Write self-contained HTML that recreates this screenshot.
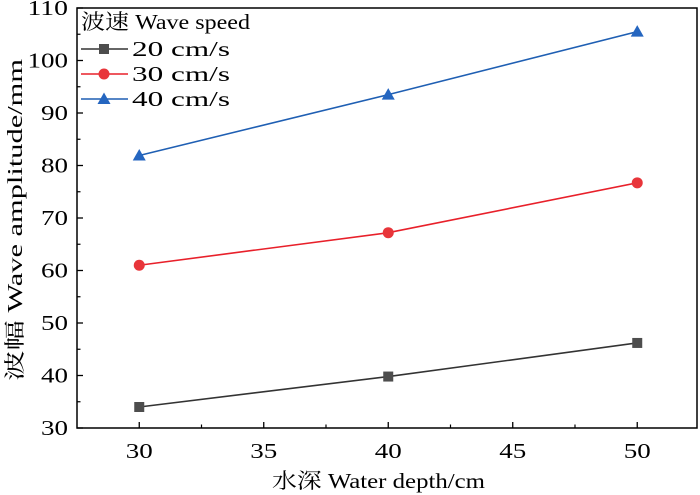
<!DOCTYPE html>
<html><head><meta charset="utf-8"><style>
html,body{margin:0;padding:0;background:#fff;}
svg{display:block;font-family:"Liberation Serif","Noto Serif CJK SC",serif;}
text{font-family:"Liberation Serif","Noto Serif CJK SC",serif;}
</style></head><body>
<svg id="chart" width="700" height="495"></svg>
<script>
const xCats = [30, 40, 50];
const s20 = [34.0, 39.8, 46.2];
const s30 = [61.0, 67.2, 76.7];
const s40 = [81.9, 93.5, 105.5];
const yTicks = [30, 40, 50, 60, 70, 80, 90, 100, 110];
const xTicks = [30, 35, 40, 45, 50];
const seriesNames = ["20 cm/s", "30 cm/s", "40 cm/s"];

const L=77,R=697,T=8,B=428;
const xMin=27.5,xMax=52.4,yMin=30,yMax=110;
const X=v=>L+(v-xMin)/(xMax-xMin)*(R-L);
const Y=v=>B-(v-yMin)/(yMax-yMin)*(B-T);
const svg=document.getElementById('chart');
const NS='http://www.w3.org/2000/svg';
function mk(tag,attrs,parent){const e=document.createElementNS(NS,tag);for(const k in attrs)e.setAttribute(k,attrs[k]);(parent||svg).appendChild(e);return e;}

const frame=mk('rect',{x:L,y:T,width:R-L,height:B-T,fill:'none',stroke:'#000','stroke-width':1.5});



yTicks.forEach((v,i)=>{
  const y=Y(v);
  const t=mk('line',{x1:L,x2:L+6,y1:y,y2:y,stroke:'#000','stroke-width':1.3});
  
  
  if(i<yTicks.length-1){const ym=Y(v+5);mk('line',{x1:L,x2:L+3.5,y1:ym,y2:ym,stroke:'#000','stroke-width':1.2});}
  const s=String(v);
  const lb=mk('text',{x:L-9,y:y+7,'text-anchor':'end','font-size':21,textLength:s.length*13.5,lengthAdjust:'spacingAndGlyphs'});
  lb.textContent=s;
  
  
});
xTicks.forEach((v,i)=>{
  const x=X(v);
  const t=mk('line',{x1:x,x2:x,y1:B,y2:B-6,stroke:'#000','stroke-width':1.3});
  
  
  if(i<xTicks.length-1){const xm=X(v+2.5);mk('line',{x1:xm,x2:xm,y1:B,y2:B-3.5,stroke:'#000','stroke-width':1.2});}
  const s=String(v);
  const lb=mk('text',{x:x,y:B+30,'text-anchor':'middle','font-size':21,textLength:s.length*13.5,lengthAdjust:'spacingAndGlyphs'});
  lb.textContent=s;
  
  
});

const xt=mk('text',{x:272,y:488,'font-size':21,textLength:213,lengthAdjust:'spacingAndGlyphs'});
xt.textContent='水深 Water depth/cm';


const yt=mk('text',{x:0,y:0,'text-anchor':'middle','font-size':21,textLength:322,lengthAdjust:'spacingAndGlyphs',transform:'translate(22,220) rotate(-90)'});
yt.textContent='波幅 Wave amplitude/mm';



function marker(kind,x,y,col,g){
  if(kind==='s')return mk('rect',{x:x-5,y:y-5,width:10,height:10,fill:col},g);
  if(kind==='c')return mk('circle',{cx:x,cy:y,r:5.5,fill:col},g);
  return mk('polygon',{points:`${x},${y-6.5} ${x+6.5},${y+5} ${x-6.5},${y+5}`,fill:col},g);
}
const series=[[s20,'#333','#4d4d4d','s','series-20cms'],[s30,'#e8202a','#e8353a','c','series-30cms'],[s40,'#1f5fb3','#2566c0','t','series-40cms']];
series.forEach(([vals,lc,mc,kind,name])=>{
  const g=mk('g',{});
  
  
  mk('polyline',{points:vals.map((v,i)=>X(xCats[i])+','+Y(v)).join(' '),fill:'none',stroke:lc,'stroke-width':1.6},g);
  vals.forEach((v,i)=>{
    const m=marker(kind,X(xCats[i]),Y(v),mc,g);
    
    
  });
});

const lg=mk('g',{});


const lt=mk('text',{x:81,y:29,'font-size':21,textLength:169,lengthAdjust:'spacingAndGlyphs'},lg);
lt.textContent='波速 Wave speed';


series.forEach(([vals,lc,mc,kind,name],i)=>{
  const y=49+i*25;
  const e=mk('g',{},lg);
  
  
  mk('line',{x1:81,x2:128,y1:y,y2:y,stroke:lc,'stroke-width':1.6},e);
  marker(kind,104,y,mc,e);
  const t=mk('text',{x:132,y:y+7,'font-size':21,textLength:98,lengthAdjust:'spacingAndGlyphs'},e);
  t.textContent=seriesNames[i];
});
</script>
</body></html>
